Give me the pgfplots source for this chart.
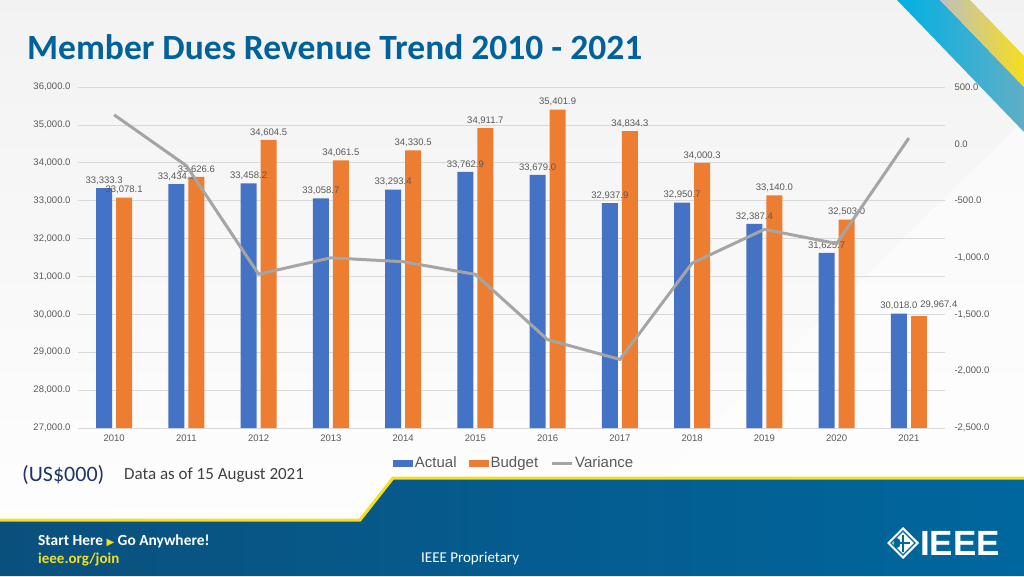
\documentclass[border=0pt]{standalone}
\usepackage{pgfplots}
\pgfplotsset{compat=1.18}
\usepackage{fontspec}
\setmainfont{Carlito}
\newfontfamily\arial{Liberation Sans}
\newfontfamily\dejavu{DejaVu Sans}
\definecolor{barblue}{RGB}{68,114,196}
\definecolor{barorange}{RGB}{237,125,49}
\definecolor{vargray}{RGB}{165,165,165}
\definecolor{gridgray}{RGB}{217,217,217}
\definecolor{labelgray}{RGB}{89,89,89}
\definecolor{titleblue}{RGB}{0,98,155}
\definecolor{navy}{RGB}{30,55,100}
\definecolor{footblue}{RGB}{0,103,158}
\definecolor{footdark}{RGB}{10,80,125}
\definecolor{ieeeyellow}{RGB}{245,222,30}
\definecolor{cyanstripe}{RGB}{0,176,228}

\pgfplotstableread{
x actual budget variance
0 33333.3 33078.1 255.2
1 33434.1 33626.6 -192.5
2 33458.2 34604.5 -1146.3
3 33058.7 34061.5 -1002.8
4 33293.4 34330.5 -1037.1
5 33762.9 34911.7 -1148.8
6 33679.0 35401.9 -1722.9
7 32937.9 34834.3 -1896.4
8 32950.7 34000.3 -1049.6
9 32387.4 33140.0 -752.6
10 31625.7 32503.0 -877.3
11 30018.0 29967.4 50.6
}\datatable
\pgfplotstableread{
x budget
11 29967.4
}\lastbudget

\tikzset{
  numfmt/.style={/pgf/number format/fixed, /pgf/number format/fixed zerofill,
    /pgf/number format/precision=1, /pgf/number format/1000 sep={,}},
}

\begin{document}
\begin{tikzpicture}[x=1pt,y=1pt]
\clip (0,0) rectangle (1024,-576);
% background
\shade[top color=white!95!black, bottom color=white] (0,0) rectangle (1024,-576);
\fill[white, opacity=0.5] (560,-576) -- (1024,-120) -- (1024,-576) -- cycle;
% top right stripes
\shade[left color=cyanstripe, right color=cyanstripe!55!gray!80!white] (897,0) -- (940,0) -- (1024,-87) -- (1024,-132) -- cycle;
\shade[left color=gray!50, right color=ieeeyellow] (940,0) -- (970,0) -- (1024,-56) -- (1024,-87) -- cycle;
% footer
\shade[left color=footdark, right color=footblue] (0,-520) -- (360,-520) -- (393,-478) -- (1024,-478) -- (1024,-576) -- (0,-576) -- cycle;
\draw[ieeeyellow, line width=3pt] (-5,-520) -- (360,-520) -- (393,-478) -- (1030,-478);

% title
\node[anchor=west, inner sep=0, text=titleblue, font=\fontsize{35.5}{40}\selectfont\bfseries] at (27,-47) {Member Dues Revenue Trend 2010 - 2021};

\begin{axis}[
  at={(78pt,-428pt)}, anchor=south west, scale only axis,
  width=867pt, height=341pt,
  xmin=-0.5, xmax=11.5, ymin=27000, ymax=36000,
  xtick={0,...,11},
  xticklabels={2010,2011,2012,2013,2014,2015,2016,2017,2018,2019,2020,2021},
  ytick={27000,28000,...,36000},
  scaled y ticks=false,
  ymajorgrids, grid style={draw=gridgray, line width=0.8pt},
  axis line style={draw=none}, major tick length=0pt,
  tick label style={font=\arial\fontsize{9.5}{11}\selectfont, text=labelgray},
  /pgf/number format/assume math mode=true,
  yticklabel style={/tikz/xshift=-4pt, numfmt},
  xticklabel style={/tikz/yshift=-3pt},
  nodes near coords style={font=\arial\fontsize{9.5}{11}\selectfont, text=labelgray, numfmt},
  legend columns=3,
  legend style={at={(0.503,-0.103)}, anchor=center, draw=none, fill=none,
     font=\arial\fontsize{15}{17}\selectfont, text=labelgray,
     /tikz/every even column/.append style={column sep=10pt}},
  clip=false,
]
\addplot[ybar, bar width=16pt, bar shift=-10pt, fill=barblue, draw=none,
  nodes near coords, nodes near coords style={/tikz/xshift=-10pt},
  legend image code/.code={\fill[barblue] (0pt,-3.5pt) rectangle (20pt,3.5pt);}]
  table[x=x, y=actual] {\datatable};
\addlegendentry{Actual}
\addplot[ybar, bar width=16pt, bar shift=10pt, fill=barorange, draw=none,
  nodes near coords, nodes near coords style={/tikz/xshift=10pt}, restrict x to domain=0:10,
  legend image code/.code={\fill[barorange] (0pt,-3.5pt) rectangle (20pt,3.5pt);}]
  table[x=x, y=budget] {\datatable};
\addlegendentry{Budget}
\addplot[ybar, bar width=16pt, bar shift=10pt, fill=barorange, draw=none,
  nodes near coords, nodes near coords style={/tikz/xshift=30pt, /tikz/yshift=3pt}, forget plot]
  table[x=x, y=budget] {\lastbudget};
\addlegendimage{line legend, draw=vargray, line width=3pt,
  legend image code/.code={\draw[vargray, line width=3pt] (0pt,0pt) -- (20pt,0pt);}}
\addlegendentry{Variance}
\end{axis}

\begin{axis}[
  at={(78pt,-428pt)}, anchor=south west, scale only axis,
  width=867pt, height=341pt,
  xmin=-0.5, xmax=11.5, ymin=-2500, ymax=500,
  axis x line=none, axis y line*=right,
  axis line style={draw=none}, major tick length=0pt,
  ytick={-2500,-2000,...,500},
  scaled y ticks=false,
  tick label style={font=\arial\fontsize{9.5}{11}\selectfont, text=labelgray},
  /pgf/number format/assume math mode=true,
  yticklabel style={/tikz/xshift=6pt, numfmt},
]
\addplot[draw=vargray, line width=3pt, mark=none] table[x=x, y=variance] {\datatable};
\end{axis}

% left notes
\node[anchor=west, inner sep=0, text=navy, font=\fontsize{22}{26}\selectfont] at (22,-475) {(US\$000)};
\node[anchor=west, inner sep=0, text=black!75, font=\fontsize{17}{20}\selectfont] at (124,-475) {Data as of 15 August 2021};

% footer text
\node[anchor=west, inner sep=0, text=white, font=\fontsize{15.4}{18}\selectfont\bfseries] at (38,-541)
  {Start Here {\color{ieeeyellow}\dejavu\fontsize{10}{11}\selectfont ▶} Go Anywhere!};
\node[anchor=west, inner sep=0, text=ieeeyellow, font=\fontsize{15}{18}\selectfont\bfseries] at (38,-559) {ieee.org/join};
\node[anchor=west, inner sep=0, text=white, font=\fontsize{15}{18}\selectfont] at (421,-559) {IEEE Proprietary};

% IEEE logo
\fill[white] (903,-527) -- (919,-543) -- (903,-559) -- (887,-543) -- cycle;
\draw[footblue, line width=1.2pt] (903,-531) -- (915,-543) -- (903,-555) -- (891,-543) -- cycle;
\fill[footblue] (897,-543) ellipse (3.5 and 5);
\draw[footblue, line width=2pt] (903,-535) -- (903,-552);
\draw[footblue, line width=1.5pt] (896,-543) -- (910,-543);
\node[anchor=west, inner sep=0, text=white, font=\arial\fontsize{35}{40}\selectfont\bfseries] at (920,-543) {IEEE};
\end{tikzpicture}
\end{document}
